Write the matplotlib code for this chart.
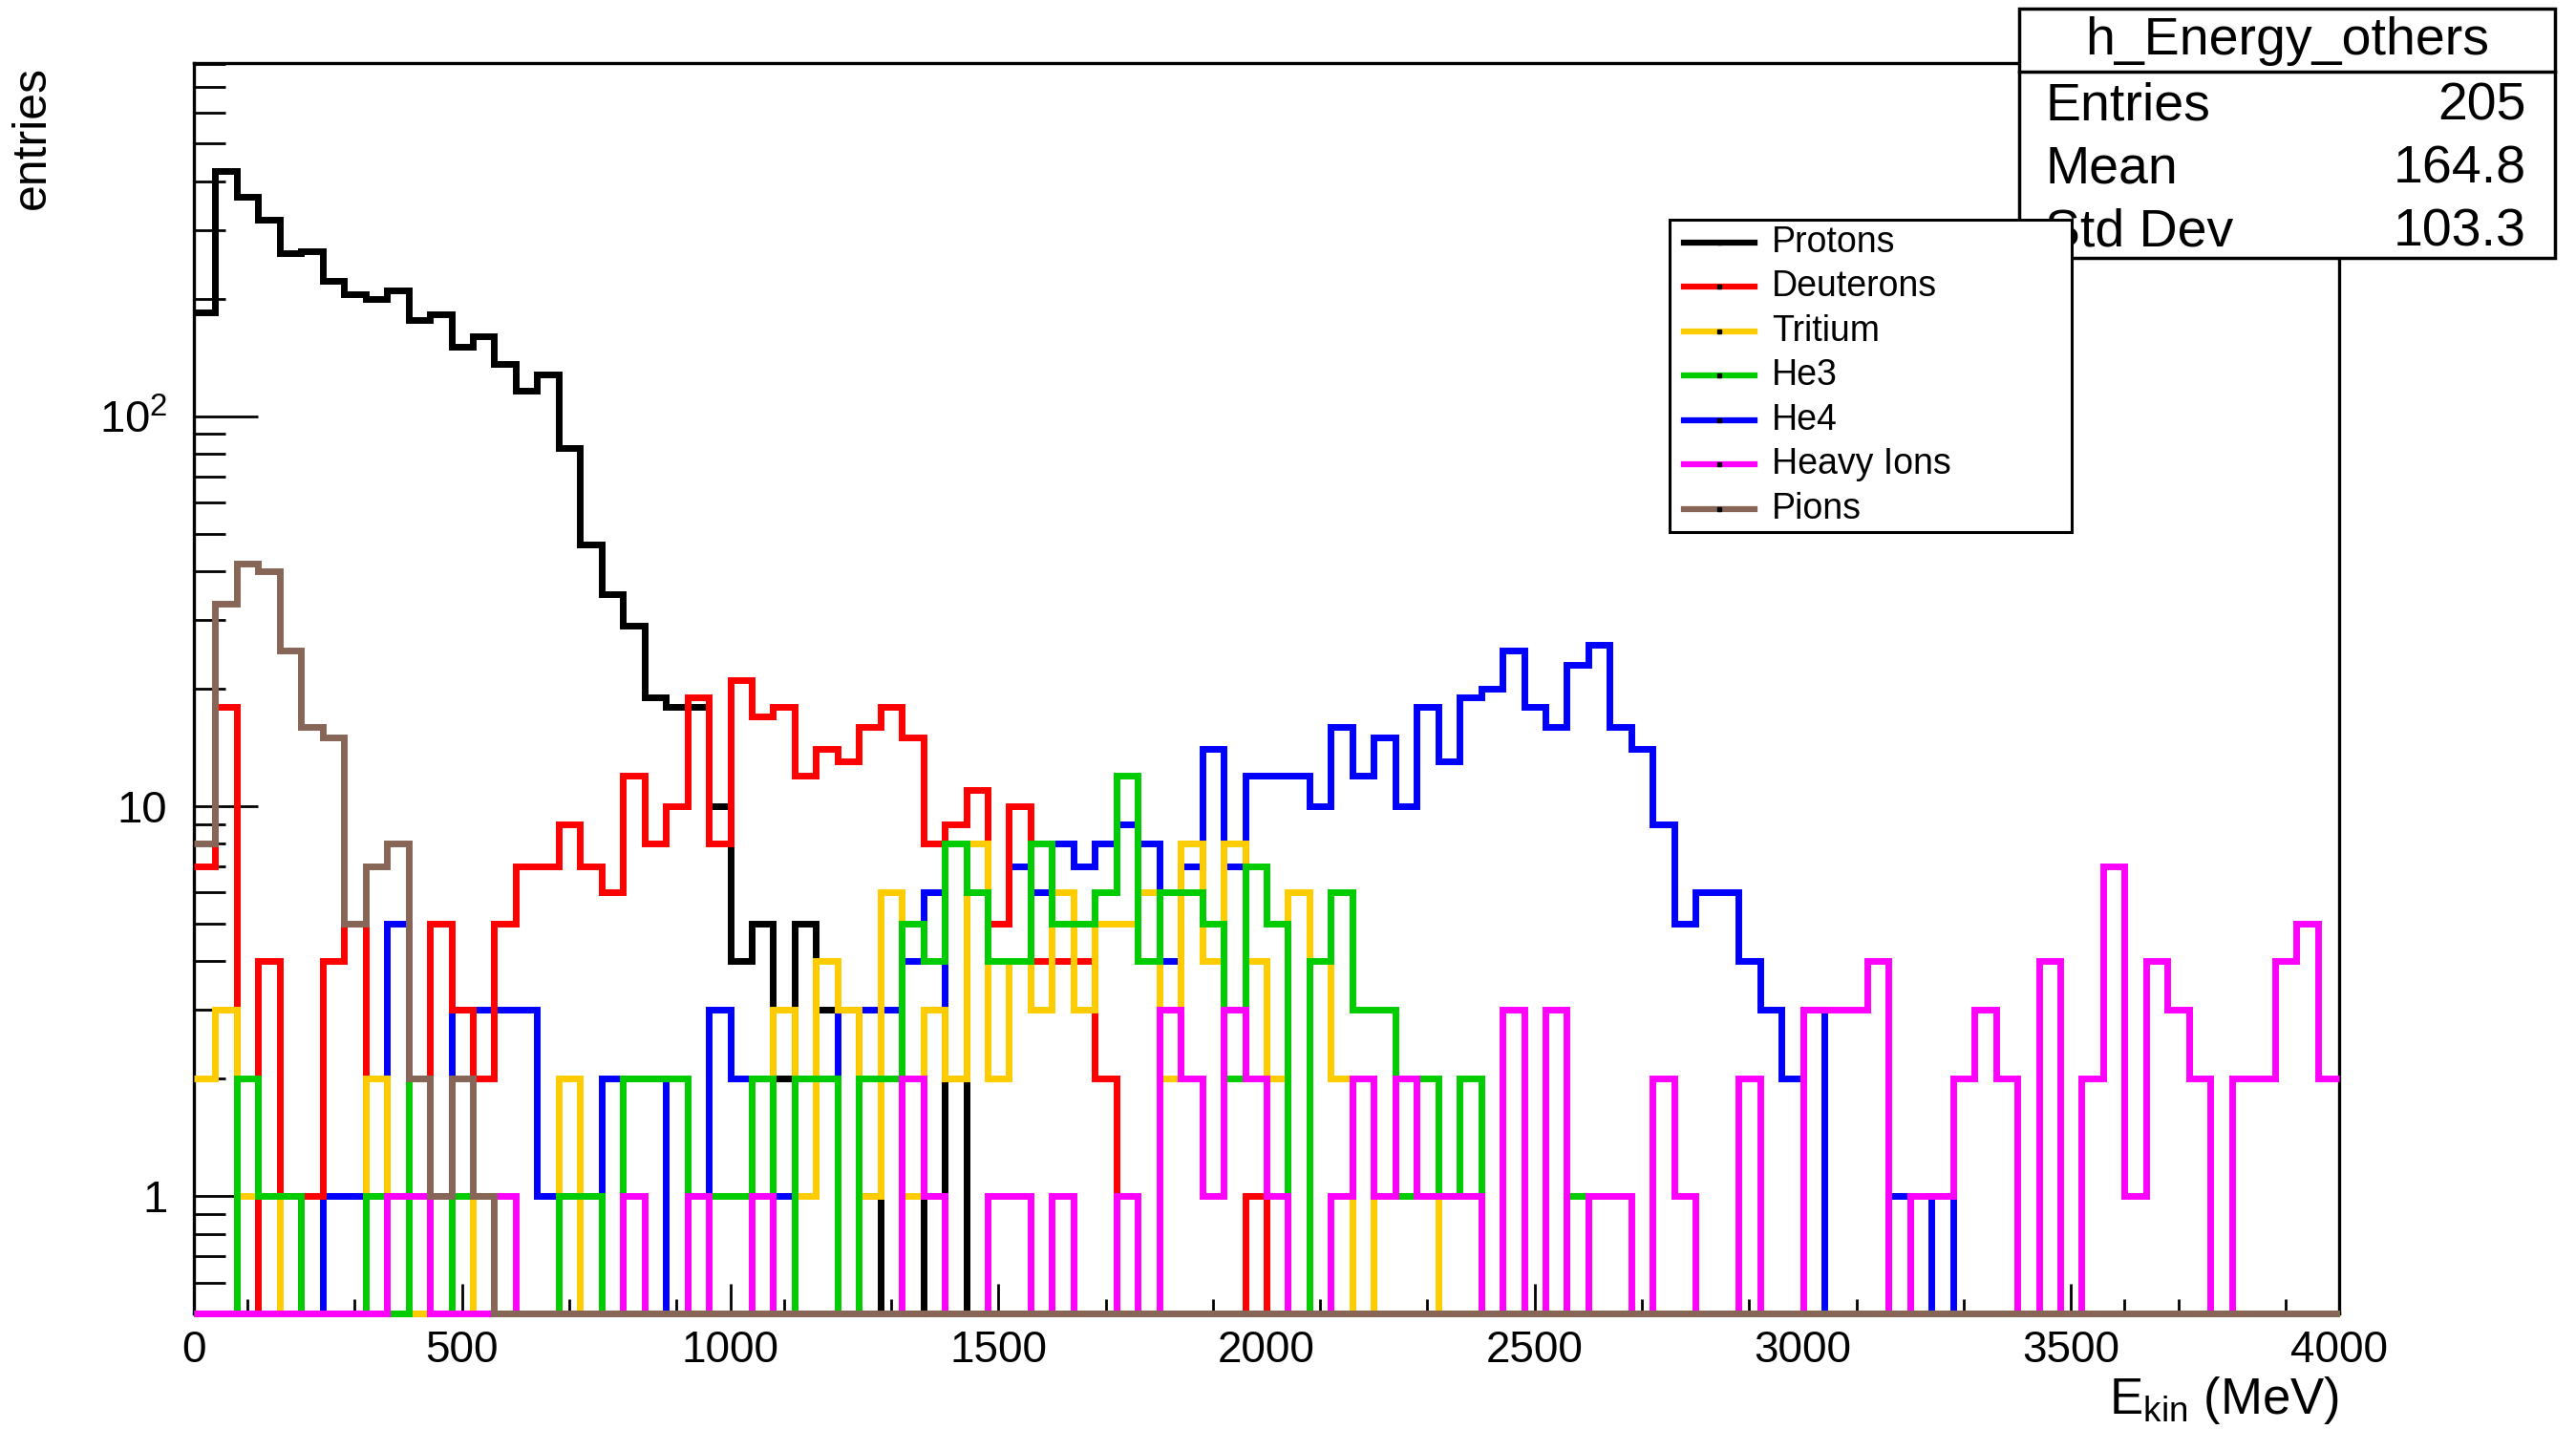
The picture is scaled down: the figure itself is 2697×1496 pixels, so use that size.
import numpy as np
import matplotlib.pyplot as plt
from matplotlib.patches import Rectangle
from matplotlib.lines import Line2D
from matplotlib.ticker import MultipleLocator, FixedLocator, NullFormatter

plt.rcParams['font.family'] = ['Liberation Sans', 'DejaVu Sans']
plt.rcParams['mathtext.fontset'] = 'custom'
plt.rcParams['mathtext.rm'] = 'Liberation Sans'
plt.rcParams['mathtext.it'] = 'Liberation Sans:italic'

# 100 bins of 40 MeV from 0 to 4000 MeV
bin_edges = np.linspace(0, 4000, 101)

protons = [185, 426, 365, 319, 262, 265, 222, 205, 200, 210,
           177, 183, 151, 160, 136, 116, 128, 83, 47, 35,
           29, 19, 18, 18, 10, 4, 5, 2, 5, 3,
           3, 1, 0, 0, 1, 2, 0, 0, 0, 0] + [0] * 60

deuterons = [7, 18, 0, 4, 1, 1, 4, 5, 0, 0,
             0, 5, 3, 2, 5, 7, 7, 9, 7, 6,
             12, 8, 10, 19, 8, 21, 17, 18, 12, 14,
             13, 16, 18, 15, 8, 9, 11, 5, 10, 4,
             4, 4, 2, 0, 0, 0, 0, 0, 0, 1] + [0] * 50

tritium = [2, 3, 1, 1, 0, 0, 0, 0, 2, 0,
           0, 0, 0, 1, 0, 0, 0, 2, 0, 0,
           0, 0, 0, 0, 0, 0, 0, 3, 1, 4,
           3, 1, 6, 1, 3, 2, 8, 2, 4, 3,
           6, 3, 5, 5, 6, 2, 8, 4, 8, 4,
           2, 6, 4, 2, 0, 1, 1, 1, 0, 0] + [0] * 40

he3 = [0, 0, 2, 1, 1, 0, 0, 0, 1, 0,
       2, 0, 1, 1, 0, 0, 0, 1, 1, 0,
       2, 2, 2, 1, 1, 1, 2, 0, 2, 2,
       0, 2, 2, 5, 4, 8, 6, 4, 4, 8,
       5, 5, 6, 12, 4, 6, 6, 5, 2, 7,
       5, 0, 4, 6, 3, 3, 1, 2, 1, 2,
       0, 0, 0, 0, 1, 0, 0, 0, 0, 0] + [0] * 30

he4 = [0, 0, 0, 1, 1, 0, 1, 1, 1, 5,
       2, 1, 3, 3, 3, 3, 1, 1, 1, 2,
       2, 2, 0, 1, 3, 2, 2, 1, 2, 2,
       3, 3, 3, 4, 6, 2, 6, 5, 7, 6,
       8, 7, 8, 9, 8, 4, 7, 14, 7, 12,
       12, 12, 10, 16, 12, 15, 10, 18, 13, 19,
       20, 25, 18, 16, 23, 26, 16, 14, 9, 5,
       6, 6, 4, 3, 2, 3, 0, 0, 0, 1,
       0, 1, 0, 0, 0, 0, 0, 0, 0, 0] + [0] * 10

heavy_ions = [0, 0, 0, 0, 0, 0, 0, 0, 0, 1,
              1, 0, 0, 0, 1, 0, 0, 0, 0, 0,
              1, 0, 0, 1, 0, 0, 1, 0, 0, 0,
              0, 0, 0, 2, 1, 0, 0, 1, 1, 0,
              1, 0, 0, 1, 0, 3, 2, 1, 3, 2,
              1, 0, 0, 1, 2, 1, 2, 1, 1, 1,
              0, 3, 0, 3, 0, 1, 1, 0, 2, 1,
              0, 0, 2, 0, 0, 3, 3, 3, 4, 0,
              1, 1, 2, 3, 2, 0, 4, 0, 2, 7,
              1, 4, 3, 2, 0, 2, 2, 4, 5, 2]

pions = [8, 33, 42, 40, 25, 16, 15, 5, 7, 8,
         2, 1, 2, 1] + [0] * 86

labels = ['Protons', 'Deuterons', 'Tritium', 'He3', 'He4', 'Heavy Ions', 'Pions']
series = [protons, deuterons, tritium, he3, he4, heavy_ions, pions]
colors = ['#000000', '#ff0000', '#ffcc00', '#00cc00', '#0000ff', '#ff00ff', '#876657']
# drawing order seen in the picture: He4 lowest, pions on top
zorders = [4, 5, 6, 7, 3, 8, 9]

W, H = 2697, 1496
ymin, ymax = 0.5, 805


def fx(x):
    return x / W


def fy(y):
    return 1 - y / H


fig = plt.figure(figsize=(W / 100, H / 100), dpi=100)
fig.patch.set_facecolor('white')
ax = fig.add_axes([fx(203), fy(1375), (2449 - 203) / W, (1375 - 66) / H])

for vals, col, z in zip(series, colors, zorders):
    v = np.maximum(np.array(vals, dtype=float), ymin)
    ax.stairs(v, bin_edges, baseline=None, color=col, linewidth=5,
              zorder=z, clip_on=False, joinstyle='miter')

ax.set_xlim(0, 4000)
ax.set_yscale('log')
ax.set_ylim(ymin, ymax)

ax.xaxis.set_major_locator(MultipleLocator(500))
ax.xaxis.set_minor_locator(MultipleLocator(100))
ax.yaxis.set_major_locator(FixedLocator([1, 10, 100]))
ax.yaxis.set_minor_locator(FixedLocator([k * 10.0 ** e for e in (-1, 0, 1, 2) for k in range(2, 10)]))
ax.yaxis.set_minor_formatter(NullFormatter())
ax.set_yticklabels(['1', '10', '$10^{2}$'])

ax.tick_params(axis='x', which='major', direction='in', length=22, width=2, labelsize=33, pad=12)
ax.tick_params(axis='x', which='minor', direction='in', length=11, width=2)
ax.tick_params(axis='y', which='major', direction='in', length=48, width=2, labelsize=34, pad=20)
ax.tick_params(axis='y', which='minor', direction='in', length=24, width=2)
for s in ax.spines.values():
    s.set_linewidth(2.4)

fig.text(fx(34), fy(69), 'entries', rotation=90, ha='center', va='top', fontsize=36)
fig.text(fx(2449), fy(1480), r'E$_{\mathrm{kin}}$ (MeV)', ha='right', va='baseline', fontsize=38)

# stats box
fig.add_artist(Rectangle((fx(2114), fy(270)), (2675 - 2114) / W, (270 - 9) / H,
                         transform=fig.transFigure, facecolor='white', edgecolor='black',
                         linewidth=2.5, zorder=10))
fig.add_artist(Line2D([fx(2114), fx(2675)], [fy(75), fy(75)], transform=fig.transFigure,
                      color='black', linewidth=2.5, zorder=11))
fig.text(fx(2395), fy(43), 'h_Energy_others', ha='center', va='center', fontsize=40, zorder=11)
stat_names = ['Entries', 'Mean', 'Std Dev']
stat_values = ['205', '164.8', '103.3']
for name, val, yy in zip(stat_names, stat_values, [112, 178, 243]):
    fig.text(fx(2141), fy(yy), name, ha='left', va='center', fontsize=40, zorder=11)
    fig.text(fx(2645), fy(yy), val, ha='right', va='center', fontsize=40, zorder=11)

# legend
fig.add_artist(Rectangle((fx(1748), fy(557)), (2169 - 1748) / W, (557 - 230) / H,
                         transform=fig.transFigure, facecolor='white', edgecolor='black',
                         linewidth=2.2, zorder=12))
for lab, col, yy in zip(labels, colors, [254, 300, 347, 393, 440, 486, 533]):
    fig.add_artist(Line2D([fx(1763), fx(1837)], [fy(yy), fy(yy)], transform=fig.transFigure,
                          color=col, linewidth=4.5, zorder=13))
    fig.add_artist(Line2D([fx(1800)], [fy(yy)], transform=fig.transFigure, marker='s',
                          markersize=2.5, color='black', linestyle='none', zorder=14))
    fig.text(fx(1855), fy(yy), lab, ha='left', va='center', fontsize=27, zorder=13)

fig.savefig('out.png', dpi=100)
